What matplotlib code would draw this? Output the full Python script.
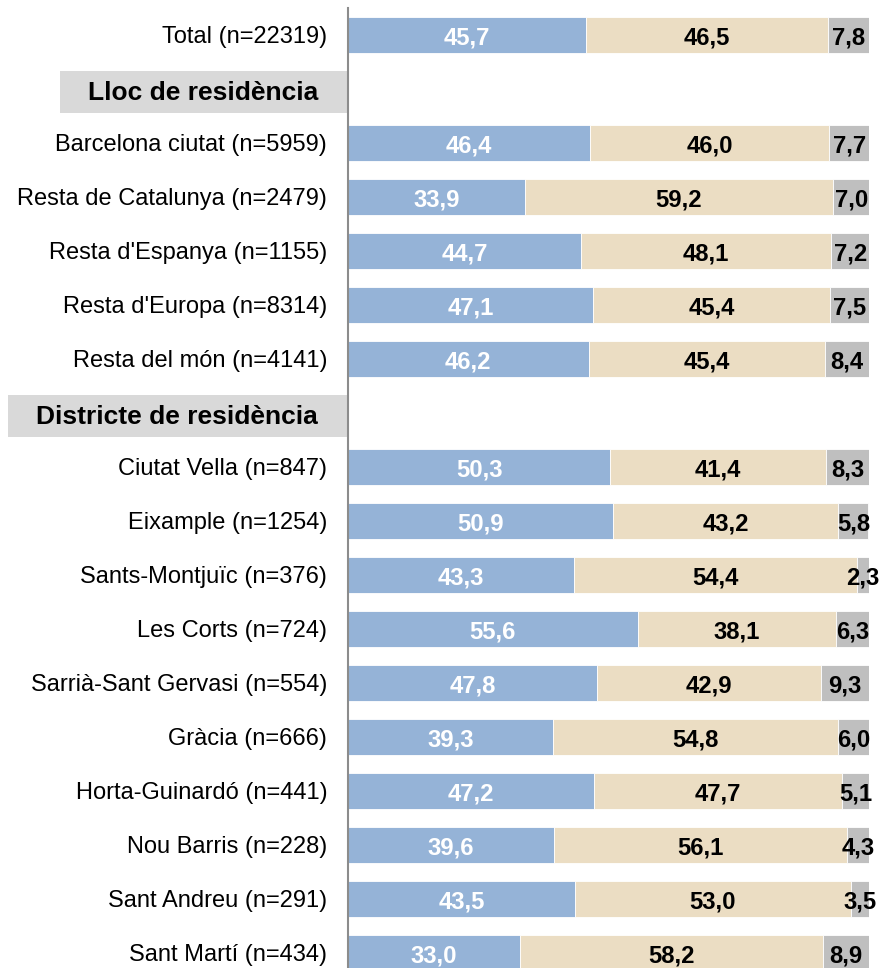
import matplotlib.pyplot as plt
from matplotlib.patches import Rectangle
from matplotlib.transforms import blended_transform_factory, offset_copy

plt.rcParams['font.family'] = ['Liberation Sans', 'DejaVu Sans']

# rows top to bottom; header rows have no values
labels = ['Total (n=22319)',
          'Lloc de residència',
          'Barcelona ciutat (n=5959)', 'Resta de Catalunya (n=2479)',
          "Resta d'Espanya (n=1155)", "Resta d'Europa (n=8314)",
          'Resta del món (n=4141)',
          'Districte de residència',
          'Ciutat Vella (n=847)', 'Eixample (n=1254)', 'Sants-Montjuïc (n=376)',
          'Les Corts (n=724)', 'Sarrià-Sant Gervasi (n=554)', 'Gràcia (n=666)',
          'Horta-Guinardó (n=441)', 'Nou Barris (n=228)',
          'Sant Andreu (n=291)', 'Sant Martí (n=434)']
headers = ['Lloc de residència', 'Districte de residència']

blue = [45.7, None, 46.4, 33.9, 44.7, 47.1, 46.2, None,
        50.3, 50.9, 43.3, 55.6, 47.8, 39.3, 47.2, 39.6, 43.5, 33.0]
beige = [46.5, None, 46.0, 59.2, 48.1, 45.4, 45.4, None,
         41.4, 43.2, 54.4, 38.1, 42.9, 54.8, 47.7, 56.1, 53.0, 58.2]
grey = [7.8, None, 7.7, 7.0, 7.2, 7.5, 8.4, None,
        8.3, 5.8, 2.3, 6.3, 9.3, 6.0, 5.1, 4.3, 3.5, 8.9]

colors = ['#95B3D7', '#EBDDC3', '#BFBFBF']
text_colors = ['white', 'black', 'black']

W, H = 881, 968
fig = plt.figure(figsize=(W / 100, H / 100), dpi=100)
ax = fig.add_axes([348 / W, -12 / H, 521 / W, 972 / H])

for i, lab in enumerate(labels):
    if lab in headers:
        continue
    left = 0
    for vals, c, tc in zip((blue, beige, grey), colors, text_colors):
        v = vals[i]
        ax.barh(i, v, left=left, height=0.67, color=c,
                edgecolor='white', linewidth=0.6)
        ax.text(left + v / 2, i + 0.05, f'{v:.1f}'.replace('.', ','),
                ha='center', va='center', color=tc,
                fontsize=17.2, fontweight='bold', clip_on=False)
        left += v

ax.set_xlim(0, 100)
ax.set_ylim(len(labels) - 0.5, -0.5)
ax.set_yticks([i for i, l in enumerate(labels) if l not in headers])
ax.set_yticklabels([l for l in labels if l not in headers], fontsize=17)
ax.tick_params(axis='y', length=0, pad=15)
ax.set_xticks([])
for s in ['top', 'right', 'bottom']:
    ax.spines[s].set_visible(False)
ax.spines['left'].set_color('#8C8C8C')
ax.spines['left'].set_linewidth(1.5)

# section headers with grey boxes reaching the axis
mix = blended_transform_factory(ax.transAxes, ax.transData)
head_texts = []
for h in headers:
    i = labels.index(h)
    t = ax.text(0, i + 0.08, h, ha='right', va='center', fontsize=19,
                fontweight='bold', transform=offset_copy(mix, fig, x=-30, units='dots'))
    head_texts.append((i, t))

fig.canvas.draw()
r = fig.canvas.get_renderer()
for i, t in head_texts:
    bb = t.get_window_extent(r)
    x0 = ax.transAxes.inverted().transform((bb.x0 - 28, 0))[0]
    ax.add_patch(Rectangle((x0, i - 0.33), -x0 - 0.002, 0.78, transform=mix,
                           facecolor='#D9D9D9', edgecolor='none',
                           clip_on=False, zorder=0))

fig.savefig('out.png', dpi=100)
